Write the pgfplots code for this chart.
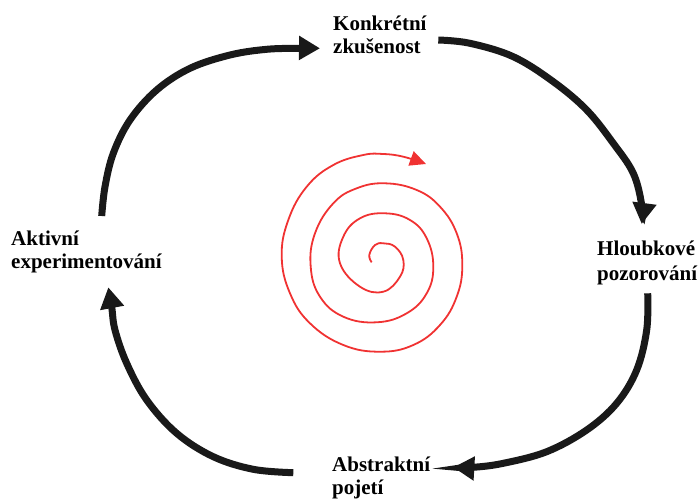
\documentclass[border=0pt]{standalone}
\usepackage{fontspec}
\setmainfont{Liberation Serif}
\usepackage{pgfplots}
\pgfplotsset{compat=1.18}
\usetikzlibrary{arrows.meta}
\definecolor{spiral}{RGB}{240,50,50}
\begin{document}
\begin{tikzpicture}
\begin{axis}[
  width=698pt, height=498pt, scale only axis,
  hide axis, clip=false,
  xmin=0, xmax=698, ymin=0, ymax=498, y dir=reverse,
]
% black cycle arrows
\addplot[black!90, line width=7pt, smooth, tension=0.6, -{Triangle[length=21pt,width=23pt]}] coordinates {
 (101.7,216) (105,186.7) (113.3,153.3) (130,120) (156.7,90) (190,68.3) (230,55) (266.7,49.3) (300,48.3) (320,48.3)};
\addplot[black!90, line width=7pt, smooth, tension=0.6, -{Triangle[length=21pt,width=23pt]}] coordinates {
 (438.3,40) (470,43.3) (513.3,56.7) (553.3,81.7) (586.7,110) (613.3,143.3) (633.3,173.3) (641.7,205) (641.7,224)};
\addplot[black!90, line width=7pt, smooth, tension=0.6, -{Triangle[length=21pt,width=23pt]}] coordinates {
 (647.7,293.3) (646.7,330) (636.7,370) (616.7,403.3) (586.7,430) (546.7,451.7) (503.3,463.3) (473.3,467.3) (453.3,467.3)};
\addplot[black!90, line width=7pt, smooth, tension=0.6, -{Triangle[length=21pt,width=23pt]}] coordinates {
 (293.3,472.7) (253.3,469.3) (213.3,456.7) (176.7,433.3) (146.7,400) (126.7,363.3) (115,330) (111.7,306.7) (108.3,287.3)};
% red spiral
\addplot[spiral, line width=1.8pt, smooth, tension=0.7, -{Triangle[length=16pt,width=15pt]}] coordinates {
 (371.7,262.3) (369.3,255) (375,245) (383.3,243.3) (395,246.7) (403.3,260) (400,276.7) (383.3,291.7)
 (360,286.7) (340,263.3) (343.3,236.7) (360,218.3) (385,213.3) (410,220) (426.7,238.3) (433.3,266.7)
 (426.7,293.3) (406.7,313.3) (376.7,322.3) (343.3,316.7) (320,296.7) (310.7,266.7) (315,233.3)
 (333.3,203.3) (356.7,188.3) (385,183.3) (416.7,190) (440,206.7) (456.7,233.3) (462.3,265)
 (456.7,296.7) (440,325) (413.3,345) (380,351.7) (343.3,345) (310,323.3) (290,293.3) (281.7,256.7)
 (288.3,220) (306.7,186.7) (333.3,165) (363.3,155) (383.3,154) (403.3,156.7) (426,164)};
% labels
\begin{scope}[every node/.style={anchor=base west, inner sep=0pt, font=\bfseries\fontsize{21}{24}\selectfont}]
\node at (axis cs:333,30) {Konkrétní};
\node at (axis cs:333,53.5) {zkušenost};
\node at (axis cs:597,255) {Hloubkové};
\node at (axis cs:597,280) {pozorování};
\node at (axis cs:11,245) {Aktivní};
\node at (axis cs:11,268) {experimentování};
\node at (axis cs:332,471) {Abstraktní};
\node at (axis cs:332,494) {pojetí};
\end{scope}
\end{axis}
\pgfresetboundingbox
\path[use as bounding box] (current axis.south west) rectangle (current axis.north east);
\end{tikzpicture}
\end{document}
